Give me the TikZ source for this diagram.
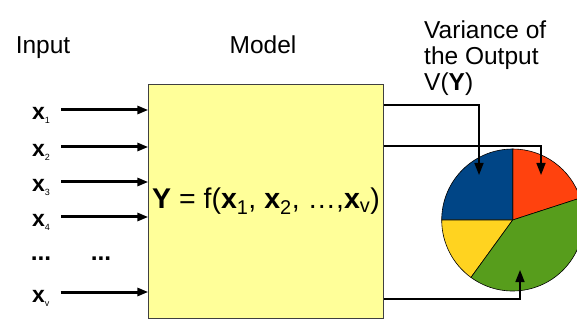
\documentclass[tikz,border=0pt]{standalone}
\usepackage{fontspec}
\setmainfont{Liberation Sans}
\usetikzlibrary{arrows.meta,positioning}
\definecolor{boxyellow}{HTML}{FFFF99}
\definecolor{pieblue}{HTML}{004586}
\definecolor{piered}{HTML}{FF420E}
\definecolor{pieyellow}{HTML}{FFD320}
\definecolor{piegreen}{HTML}{579D1C}
\newcommand{\invar}[1]{\textbf{x}\raisebox{-4pt}{\fontsize{9}{9}\selectfont #1}}

\begin{document}
\begin{tikzpicture}[x=1pt,y=1pt,
    heading/.style={font=\fontsize{24.5}{26}\selectfont, inner sep=0pt},
    xlabel/.style={font=\fontsize{23}{23}\selectfont, inner sep=0pt, anchor=west, text height=20pt, text depth=0pt},
    inarrow/.style={-{Triangle[length=11pt,width=8pt]}, line width=3pt, shorten <=11pt},
    outarrow/.style={-{Triangle[length=12pt,width=9pt]}, line width=1.6pt},
    slice/.style={draw=black, line width=0.6pt}]

\useasboundingbox (0,0) rectangle (577,321);

\node[heading, anchor=base]   (input)      at (43,267)  {Input};
\node[heading, anchor=base]   (modeltitle) at (263,267) {Model};
\node[heading, anchor=north west, align=left] (variance) at (424,300) {Variance of\\the Output\\V(\textbf{Y})};

\node[draw=black!75, line width=1pt, fill=boxyellow, minimum width=234pt, minimum height=233pt,
      font=\fontsize{28.5}{28.5}\selectfont] (model) at (266,119.5)
      {\textbf{Y} = f(\textbf{x}\textsubscript{1}, \textbf{x}\textsubscript{2}, …,\textbf{x}\textsubscript{v})};

\node[xlabel] (x1) at (32,211) {\invar{1}};
\node[xlabel] (x2) at (32,174) {\invar{2}};
\node[xlabel] (x3) at (32,139) {\invar{3}};
\node[xlabel] (x4) at (32,104) {\invar{4}};
\node[xlabel] (xv) at (32,29)  {\invar{v}};
\node[heading] (dotsa) at (41,62)  {\textbf{...}};
\node[heading] (dotsb) at (101,62) {\textbf{...}};

\path[inarrow]
    (x1.east) edge (x1.east -| model.west)
    (x2.east) edge (x2.east -| model.west)
    (x3.east) edge (x3.east -| model.west)
    (x4.east) edge (x4.east -| model.west)
    (xv.east) edge (xv.east -| model.west);

\coordinate (pc) at (512.7,101);
\filldraw[slice, fill=piered]    (pc) -- ++(18:71)  arc[start angle=18,  end angle=90,  radius=71] -- cycle;
\filldraw[slice, fill=pieblue]   (pc) -- ++(90:71)  arc[start angle=90,  end angle=180, radius=71] -- cycle;
\filldraw[slice, fill=pieyellow] (pc) -- ++(180:71) arc[start angle=180, end angle=234, radius=71] -- cycle;
\filldraw[slice, fill=piegreen]  (pc) -- ++(234:71) arc[start angle=234, end angle=378, radius=71] -- cycle;
\node[circle, inner sep=0pt, minimum size=142pt] (pie) at (pc) {};

\coordinate (tblue)  at (479,146);
\coordinate (tred)   at (541,146);
\coordinate (tgreen) at (520,51);

\draw[outarrow] ([yshift=96.5pt]model.east)  -| (tblue);
\draw[outarrow] ([yshift=55.5pt]model.east)  -| (tred);
\draw[outarrow] ([yshift=-97.5pt]model.east) -| (tgreen);
\end{tikzpicture}
\end{document}
